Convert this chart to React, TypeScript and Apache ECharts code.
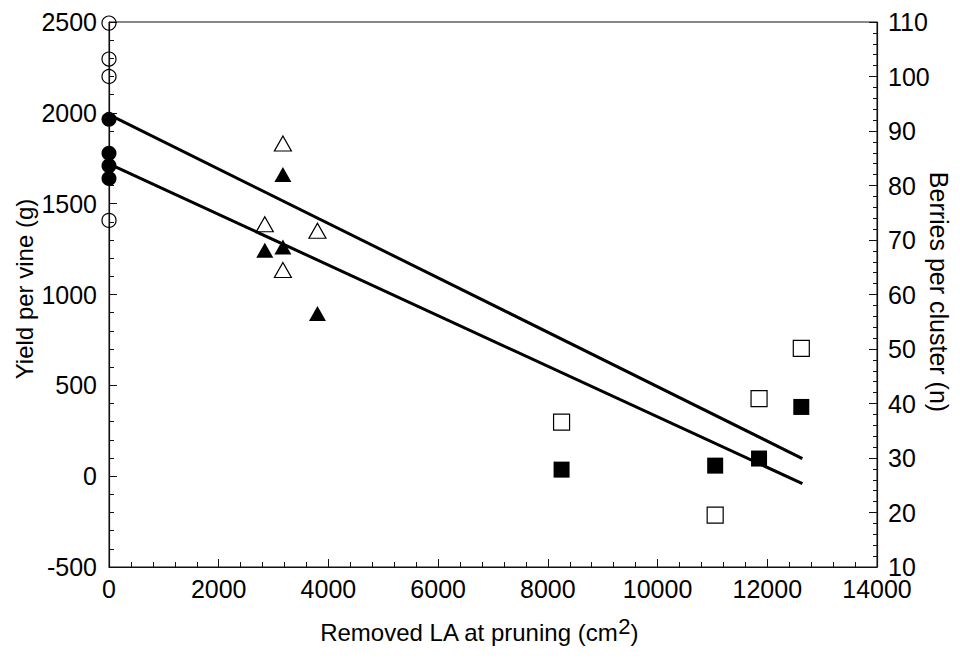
import React, { useEffect, useRef } from "react";
import * as echarts from "echarts";

// Control vines (0 removed leaf area)
const controlLA = [0, 0, 0, 0];
const controlYield = [1964, 1777, 1709, 1639];
const controlBerries = [109.8, 103.2, 100.0, 73.6];

// Moderate leaf removal (triangles)
const moderateLA = [2840, 3170, 3170, 3800];
const moderateYield = [1244, 1661, 1262, 896];
const moderateBerries = [72.9, 87.7, 64.5, 71.7];

// Severe leaf removal (squares)
const severeLA = [8250, 11050, 11850, 12620];
const severeYield = [36, 58, 97, 381];
const severeBerries = [36.6, 19.5, 40.9, 50.1];

// Regression lines
const fitLA = [0, 12640];
const yieldFit = [1719, -41];
const berriesFit = [93.0, 29.9];

const xTicks = { min: 0, max: 14000, interval: 2000 };
const yieldTicks = { min: -500, max: 2500, interval: 500 };
const berriesTicks = { min: 10, max: 110, interval: 10 };

const FONT = "'Liberation Sans', Arial, sans-serif";

const zip = (xs: number[], ys: number[]) => xs.map((x, i) => [x, ys[i]]);

export default function App() {
  const ref = useRef<HTMLDivElement>(null);

  useEffect(() => {
    if (!ref.current) return;
    const chart = echarts.init(ref.current, null, { renderer: "svg" });
    const axisLine = { show: true, onZero: false, lineStyle: { color: "#111", width: 1.2 } };
    const axisLabel = {
      color: "#000",
      fontSize: 25,
      fontFamily: FONT,
      formatter: (v: number) => String(v),
    };
    const filled = (symbol: string, size: any) => ({
      type: "scatter",
      symbol,
      symbolSize: size,
      clip: false,
      itemStyle: { color: "#000", opacity: 1 },
      z: 5,
    });
    const open = (symbol: string, size: any) => ({
      type: "scatter",
      symbol,
      symbolSize: size,
      clip: false,
      yAxisIndex: 1,
      itemStyle: { color: "transparent", borderColor: "#000", borderWidth: 1.2, opacity: 1 },
      z: 5,
    });
    chart.setOption({
      animation: false,
      backgroundColor: "#fff",
      textStyle: { fontFamily: FONT },
      grid: {
        left: 109,
        top: 22,
        width: 768,
        height: 545,
        show: true,
        borderColor: "#111",
        borderWidth: 1,
        backgroundColor: "transparent",
      },
      xAxis: {
        type: "value",
        ...xTicks,
        axisLine,
        axisTick: { show: true, inside: true, length: 8, lineStyle: { color: "#111" } },
        minorTick: { show: true, splitNumber: 5, length: 5, lineStyle: { color: "#111" } },
        splitLine: { show: false },
        axisLabel: { ...axisLabel, margin: 9 },
      },
      yAxis: [
        {
          type: "value",
          position: "left",
          ...yieldTicks,
          axisLine,
          axisTick: { show: true, inside: true, length: 8, lineStyle: { color: "#111" } },
          minorTick: { show: true, splitNumber: 5, length: 5, lineStyle: { color: "#111" } },
          splitLine: { show: false },
          axisLabel: { ...axisLabel, margin: 12 },
        },
        {
          type: "value",
          position: "right",
          ...berriesTicks,
          axisLine,
          axisTick: { show: true, inside: true, length: 8, lineStyle: { color: "#111" } },
          minorTick: { show: true, splitNumber: 5, length: 4, lineStyle: { color: "#111" } },
          splitLine: { show: false },
          axisLabel: { ...axisLabel, margin: 11 },
        },
      ],
      graphic: [
        {
          type: "text",
          x: 24,
          y: 289,
          rotation: Math.PI / 2,
          style: {
            text: "Yield per vine (g)",
            fontSize: 24,
            fontFamily: FONT,
            fill: "#000",
            align: "center",
            verticalAlign: "middle",
          },
        },
        {
          type: "text",
          x: 939,
          y: 292,
          rotation: -Math.PI / 2,
          style: {
            text: "Berries per cluster (n)",
            fontSize: 25,
            fontFamily: FONT,
            fill: "#000",
            align: "center",
            verticalAlign: "middle",
          },
        },
        {
          type: "text",
          x: 479,
          y: 632,
          style: {
            text: "Removed LA at pruning (cm{sup|2})",
            fontSize: 24,
            lineHeight: 34,
            fontFamily: FONT,
            fill: "#000",
            align: "center",
            verticalAlign: "middle",
            rich: {
              sup: { fontSize: 22, lineHeight: 24, verticalAlign: "top", fontFamily: FONT, fill: "#000" },
            },
          },
        },
      ],
      series: [
        {
          type: "line",
          data: zip(fitLA, yieldFit),
          showSymbol: false,
          lineStyle: { color: "#000", width: 3 },
          z: 3,
        },
        {
          type: "line",
          yAxisIndex: 1,
          data: zip(fitLA, berriesFit),
          showSymbol: false,
          lineStyle: { color: "#000", width: 3 },
          z: 3,
        },
        { ...filled("circle", 15), data: zip(controlLA, controlYield) },
        { ...open("circle", 14), data: zip(controlLA, controlBerries) },
        { ...filled("triangle", [17, 15]), data: zip(moderateLA, moderateYield) },
        { ...open("triangle", [17, 15]), data: zip(moderateLA, moderateBerries) },
        { ...filled("rect", 16), data: zip(severeLA, severeYield) },
        { ...open("rect", 16), data: zip(severeLA, severeBerries) },
      ],
    });
    return () => chart.dispose();
  }, []);

  return (
    <div
      ref={ref}
      style={{ position: "fixed", left: 0, top: 0, width: 960, height: 662, background: "#fff" }}
    />
  );
}
